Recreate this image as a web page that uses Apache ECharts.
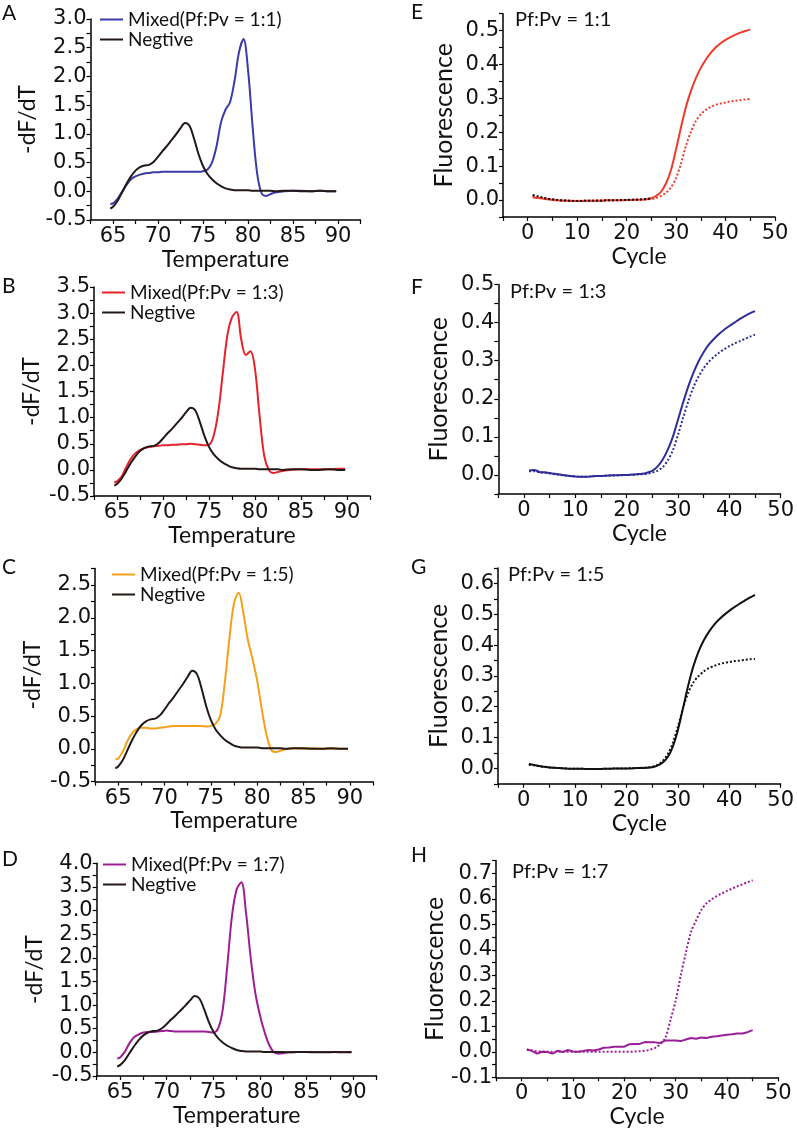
<!DOCTYPE html>
<html>
<head>
<meta charset="utf-8">
<script src="https://cdn.jsdelivr.net/npm/echarts@6/dist/echarts.min.js"></script>
<style>
  html, body { margin: 0; padding: 0; background: #fff; }
  #chart { width: 797px; height: 1133px; }
</style>
</head>
<body>
<div id="chart"></div>
<script>
// melting curves (-dF/dT vs temperature)
const temps = [64.7, 65, 65.5, 66, 66.5, 67, 67.5, 68, 68.5, 69, 69.5, 70, 70.5, 71, 71.5, 72, 72.5, 73, 73.5, 74,
  74.5, 75, 75.5, 76, 76.5, 77, 77.5, 78, 78.5, 79, 79.5, 80, 80.5, 81, 81.5, 82, 82.5, 83, 84, 85, 86, 87, 88, 89, 89.8];
const negative = [-0.30, -0.27, -0.17, -0.02, 0.13, 0.26, 0.36, 0.42, 0.45, 0.46, 0.51, 0.60, 0.70, 0.79, 0.89, 0.99, 1.10, 1.19, 1.14, 0.92,
  0.65, 0.44, 0.30, 0.21, 0.14, 0.09, 0.05, 0.03, 0.02, 0.02, 0.02, 0.02, 0.01, 0.01, 0.01, 0.01, 0.01, 0.00, 0.01, 0.01, 0.00, 0.00, 0.01, 0.00, 0.00];
const mixed11 = [-0.22, -0.21, -0.13, -0.01, 0.11, 0.21, 0.26, 0.29, 0.31, 0.32, 0.33, 0.33, 0.34, 0.34, 0.34, 0.34, 0.34, 0.34, 0.34, 0.34,
  0.34, 0.35, 0.38, 0.50, 0.78, 1.20, 1.42, 1.55, 1.92, 2.42, 2.65, 2.12, 1.15, 0.33, -0.03, -0.08, -0.05, -0.02, 0.00, 0.01, 0.01, 0.00, 0.01, 0.00, 0.00];
const mixed13 = [-0.24, -0.22, -0.13, 0.05, 0.21, 0.32, 0.38, 0.42, 0.44, 0.45, 0.46, 0.47, 0.47, 0.48, 0.48, 0.49, 0.49, 0.50, 0.49, 0.48,
  0.47, 0.48, 0.65, 1.10, 1.85, 2.58, 2.92, 3.02, 2.50, 2.20, 2.27, 1.93, 1.03, 0.27, 0.00, -0.06, -0.04, -0.02, 0.00, 0.01, 0.01, 0.01, 0.01, 0.02, 0.02];
const mixed15 = [-0.16, -0.15, -0.04, 0.12, 0.24, 0.30, 0.32, 0.32, 0.31, 0.31, 0.32, 0.33, 0.34, 0.35, 0.35, 0.35, 0.35, 0.35, 0.35, 0.35,
  0.34, 0.35, 0.38, 0.50, 1.00, 1.68, 2.22, 2.38, 2.08, 1.66, 1.37, 1.04, 0.60, 0.22, -0.01, -0.05, -0.03, -0.01, 0.01, 0.00, 0.01, 0.00, 0.00, 0.00, 0.00];
const mixed17 = [-0.13, -0.11, 0.01, 0.19, 0.32, 0.38, 0.42, 0.43, 0.43, 0.44, 0.45, 0.46, 0.45, 0.44, 0.44, 0.44, 0.44, 0.44, 0.44, 0.44,
  0.43, 0.42, 0.50, 0.90, 1.85, 2.90, 3.45, 3.60, 2.95, 2.00, 1.25, 0.78, 0.42, 0.15, 0.00, -0.03, -0.02, 0.00, 0.01, 0.01, 0.01, 0.01, 0.01, 0.01, 0.01];

// amplification curves (fluorescence vs cycle)
const cycles = [1, 2, 3, 4, 5, 6, 7, 8, 9, 10, 11, 12, 13, 14, 15, 16, 17, 18, 19, 20, 21, 22, 23, 24, 25,
  26, 27, 28, 29, 30, 31, 32, 33, 34, 35, 36, 37, 38, 39, 40, 41, 42, 43, 44, 45];
const eSolid = [0.008, 0.006, 0.004, 0.002, 0.000, -0.001, -0.002, -0.002, -0.003, -0.003, -0.003, -0.002, -0.002, -0.002, -0.002, -0.001, -0.001, -0.001, -0.001, 0.000, 0.000, 0.001, 0.001, 0.002, 0.005,
  0.012, 0.025, 0.050, 0.090, 0.150, 0.215, 0.275, 0.322, 0.360, 0.390, 0.414, 0.434, 0.450, 0.463, 0.473, 0.481, 0.488, 0.494, 0.499, 0.503];
const eDotted = [0.012, 0.009, 0.006, 0.004, 0.002, 0.000, -0.001, -0.002, -0.002, -0.002, -0.002, -0.002, -0.002, -0.001, -0.001, -0.001, -0.001, 0.000, 0.000, 0.000, 0.000, 0.001, 0.001, 0.002, 0.003,
  0.006, 0.012, 0.022, 0.038, 0.065, 0.108, 0.160, 0.202, 0.233, 0.253, 0.266, 0.275, 0.281, 0.285, 0.288, 0.291, 0.293, 0.295, 0.297, 0.298];
const eNegative = [0.015, 0.011, 0.007, 0.004, 0.002, 0.000, -0.001, -0.002, -0.003, -0.003, -0.003, -0.002, -0.002, -0.002, -0.002, -0.001, -0.001, -0.001, 0.000, 0.000, 0.001, 0.001, 0.002, 0.003, 0.005];
const fSolid = [0.012, 0.013, 0.008, 0.007, 0.005, 0.003, 0.001, -0.001, -0.003, -0.004, -0.005, -0.005, -0.004, -0.003, -0.003, -0.002, -0.001, -0.001, 0.000, 0.000, 0.001, 0.002, 0.003, 0.006, 0.011,
  0.022, 0.040, 0.066, 0.100, 0.145, 0.190, 0.232, 0.268, 0.298, 0.322, 0.342, 0.357, 0.370, 0.381, 0.391, 0.400, 0.409, 0.417, 0.424, 0.430];
const fDotted = [0.010, 0.010, 0.007, 0.006, 0.004, 0.002, 0.000, -0.002, -0.003, -0.004, -0.005, -0.005, -0.004, -0.003, -0.003, -0.002, -0.002, -0.001, -0.001, 0.000, 0.000, 0.001, 0.002, 0.003, 0.006,
  0.011, 0.020, 0.038, 0.065, 0.105, 0.150, 0.193, 0.230, 0.258, 0.280, 0.297, 0.310, 0.321, 0.330, 0.338, 0.345, 0.351, 0.357, 0.363, 0.368];
const gSolid = [0.014, 0.011, 0.008, 0.005, 0.003, 0.002, 0.001, 0.000, -0.001, -0.001, -0.001, -0.002, -0.002, -0.002, -0.002, -0.001, -0.001, 0.000, 0.000, 0.000, 0.000, 0.001, 0.001, 0.002, 0.004,
  0.009, 0.018, 0.036, 0.070, 0.124, 0.195, 0.268, 0.330, 0.378, 0.414, 0.442, 0.465, 0.483, 0.498, 0.511, 0.523, 0.534, 0.544, 0.554, 0.563];
const gDotted = [0.012, 0.010, 0.007, 0.005, 0.003, 0.002, 0.001, 0.000, -0.001, -0.001, -0.001, -0.002, -0.002, -0.002, -0.002, -0.001, -0.001, 0.000, 0.000, 0.000, 0.001, 0.001, 0.002, 0.003, 0.005,
  0.011, 0.023, 0.045, 0.082, 0.135, 0.195, 0.245, 0.278, 0.299, 0.314, 0.325, 0.332, 0.338, 0.342, 0.345, 0.348, 0.350, 0.352, 0.354, 0.355];
const hSolid = [0.009, 0.004, -0.007, 0.000, -0.001, -0.007, 0.004, -0.001, 0.007, 0.001, 0.000, 0.003, 0.007, 0.005, 0.009, 0.016, 0.017, 0.020, 0.020, 0.020, 0.030, 0.031, 0.031, 0.038, 0.037,
  0.037, 0.035, 0.044, 0.044, 0.044, 0.042, 0.048, 0.054, 0.051, 0.056, 0.054, 0.059, 0.061, 0.064, 0.067, 0.069, 0.072, 0.072, 0.077, 0.085];
const hDotted = [0.009, 0.005, 0.002, 0.001, 0.000, 0.000, 0.000, 0.000, 0.000, 0.000, 0.000, 0.000, 0.000, 0.000, 0.000, 0.000, 0.000, 0.000, 0.000, 0.000, 0.000, 0.001, 0.002, 0.004, 0.008,
  0.015, 0.030, 0.055, 0.125, 0.200, 0.300, 0.390, 0.470, 0.516, 0.556, 0.582, 0.598, 0.611, 0.621, 0.631, 0.640, 0.649, 0.657, 0.665, 0.673];

const FONT = 'Lato';
const TICK_FONT = 'DejaVu Sans';
const INK = '#111';
const NEG = '#231815';

function pairs(xs, ys) {
  return ys.map(function (y, i) { return [xs[i], y]; });
}
function onStep(v, step) {
  const q = v / step;
  return Math.abs(q - Math.round(q)) < 1e-6;
}
function axisCommon(nameSize) {
  return {
    axisLine: { onZero: false, lineStyle: { color: '#000', width: 1.5 } },
    axisTick: { length: 4, lineStyle: { color: '#000', width: 1.2 } },
    splitLine: { show: false },
    nameTextStyle: { fontFamily: FONT, fontSize: nameSize, color: INK },
    nameLocation: 'middle'
  };
}
function makeX(idx, min, max, step, labelStep, name) {
  return Object.assign(axisCommon(23), {
    type: 'value', gridIndex: idx, min: min, max: max, interval: step,
    name: name, nameGap: 27,
    axisLabel: {
      fontFamily: TICK_FONT, fontSize: 21, color: INK, margin: 6,
      formatter: function (v) { return onStep(v, labelStep) ? String(Math.round(v)) : ''; }
    }
  });
}
function makeY(idx, min, max, step, labelStep, name, gap, nameSize) {
  return Object.assign(axisCommon(nameSize), {
    type: 'value', gridIndex: idx, min: min, max: max, interval: step,
    name: name, nameGap: gap,
    axisLabel: {
      fontFamily: TICK_FONT, fontSize: 21, color: INK, margin: 4,
      formatter: function (v) { return onStep(v, labelStep) ? (Math.round(v / labelStep) * labelStep).toFixed(1) : ''; }
    }
  });
}

const meltPanels = [
  { letter: 'A', name: 'Mixed(Pf:Pv = 1:1)', color: '#3b3ba8', values: mixed11, yMax: 3.0,
    grid: { left: 90.5, top: 19, width: 270, height: 201 }, legend: { left: 100, top: 10 }, letterTop: 3 },
  { letter: 'B', name: 'Mixed(Pf:Pv = 1:3)', color: '#e5232b', values: mixed13, yMax: 3.5,
    grid: { left: 94, top: 287, width: 276, height: 209 }, legend: { left: 102, top: 283 }, letterTop: 276 },
  { letter: 'C', name: 'Mixed(Pf:Pv = 1:5)', color: '#f5a01a', values: mixed15, yMax: 2.75,
    grid: { left: 95, top: 568.6, width: 278, height: 213 }, legend: { left: 112, top: 565 }, letterTop: 557 },
  { letter: 'D', name: 'Mixed(Pf:Pv = 1:7)', color: '#9c1f94', values: mixed17, yMax: 4.0,
    grid: { left: 96.7, top: 863.3, width: 280, height: 212.7 }, legend: { left: 103, top: 855 }, letterTop: 849 }
];
const ampPanels = [
  { letter: 'E', label: 'Pf:Pv = 1:1', color: '#ef3b2a', solid: eSolid, dotted: eDotted, yMin: -0.05, yMax: 0.55,
    grid: { left: 503, top: 13.7, width: 272, height: 203.2 }, labelPos: [515, 10], letterTop: 2 },
  { letter: 'F', label: 'Pf:Pv = 1:3', color: '#2e2e98', solid: fSolid, dotted: fDotted, yMin: -0.05, yMax: 0.5,
    grid: { left: 498.3, top: 284.5, width: 282.7, height: 209.5 }, labelPos: [510, 282], letterTop: 277 },
  { letter: 'G', label: 'Pf:Pv = 1:5', color: '#111111', solid: gSolid, dotted: gDotted, yMin: -0.05, yMax: 0.65,
    grid: { left: 498, top: 568, width: 288.7, height: 215.8 }, labelPos: [508, 565], letterTop: 557 },
  { letter: 'H', label: 'Pf:Pv = 1:7', color: '#9a1e96', solid: hSolid, dotted: hDotted, yMin: -0.1, yMax: 0.75,
    grid: { left: 496, top: 860.6, width: 282.3, height: 216.7 }, labelPos: [512, 862], letterTop: 845 }
];

const option = {
  animation: false,
  backgroundColor: '#fff',
  textStyle: { fontFamily: FONT },
  grid: [], xAxis: [], yAxis: [], series: [], legend: [], title: []
};

meltPanels.forEach(function (p, i) {
  option.grid.push(p.grid);
  option.xAxis.push(makeX(i, 62.5, 92.5, 2.5, 5, 'Temperature'));
  option.yAxis.push(makeY(i, -0.5, p.yMax, 0.25, 0.5, '-dF/dT', 51, 23));
  option.series.push({
    type: 'line', name: p.name, xAxisIndex: i, yAxisIndex: i, data: pairs(temps, p.values),
    symbol: 'none', smooth: 0.35, lineStyle: { color: p.color, width: 2 }, itemStyle: { color: p.color }
  });
  option.series.push({
    type: 'line', name: 'Negtive', xAxisIndex: i, yAxisIndex: i, data: pairs(temps, negative),
    symbol: 'none', smooth: 0.35, lineStyle: { color: NEG, width: 2 }, itemStyle: { color: NEG }
  });
  option.legend.push({
    orient: 'vertical', left: p.legend.left, top: p.legend.top, padding: 0, itemGap: 1,
    icon: 'rect', itemWidth: 23, itemHeight: 2, selectedMode: false,
    data: [p.name, 'Negtive'],
    textStyle: { fontFamily: FONT, fontSize: 19, color: INK }
  });
  option.title.push({ text: p.letter, left: 2, top: p.letterTop, padding: 0,
    textStyle: { fontFamily: FONT, fontSize: 21, fontWeight: 'normal', color: INK } });
});

ampPanels.forEach(function (p, j) {
  const i = j + 4;
  option.grid.push(p.grid);
  option.xAxis.push(makeX(i, -5, 50, 5, 10, 'Cycle'));
  option.yAxis.push(makeY(i, p.yMin, p.yMax, 0.05, 0.1, 'Fluorescence', 47, 25));
  option.series.push({
    type: 'line', name: p.label + ' dotted', xAxisIndex: i, yAxisIndex: i, data: pairs(cycles, p.dotted),
    symbol: 'none', smooth: 0.3, lineStyle: { color: p.color, width: 2, type: [2, 2] }
  });
  option.series.push({
    type: 'line', name: p.label + ' solid', xAxisIndex: i, yAxisIndex: i, data: pairs(cycles, p.solid),
    symbol: 'none', smooth: p.letter === 'H' ? false : 0.3, lineStyle: { color: p.color, width: 2 }
  });
  option.title.push({ text: p.letter, left: 411, top: p.letterTop, padding: 0,
    textStyle: { fontFamily: FONT, fontSize: 21, fontWeight: 'normal', color: INK } });
  option.title.push({ text: p.label, left: p.labelPos[0], top: p.labelPos[1], padding: 0,
    textStyle: { fontFamily: FONT, fontSize: 20, fontWeight: 'normal', color: INK } });
});

// black dotted negative trace visible on top of panel E baseline
option.series.push({
  type: 'line', name: 'E negative', xAxisIndex: 4, yAxisIndex: 4, data: pairs(cycles, eNegative),
  symbol: 'none', smooth: 0.3, lineStyle: { color: '#111', width: 2, type: [2, 2] }
});

const chart = echarts.init(document.getElementById('chart'), null, { renderer: 'canvas' });
chart.setOption(option);
</script>
</body>
</html>
